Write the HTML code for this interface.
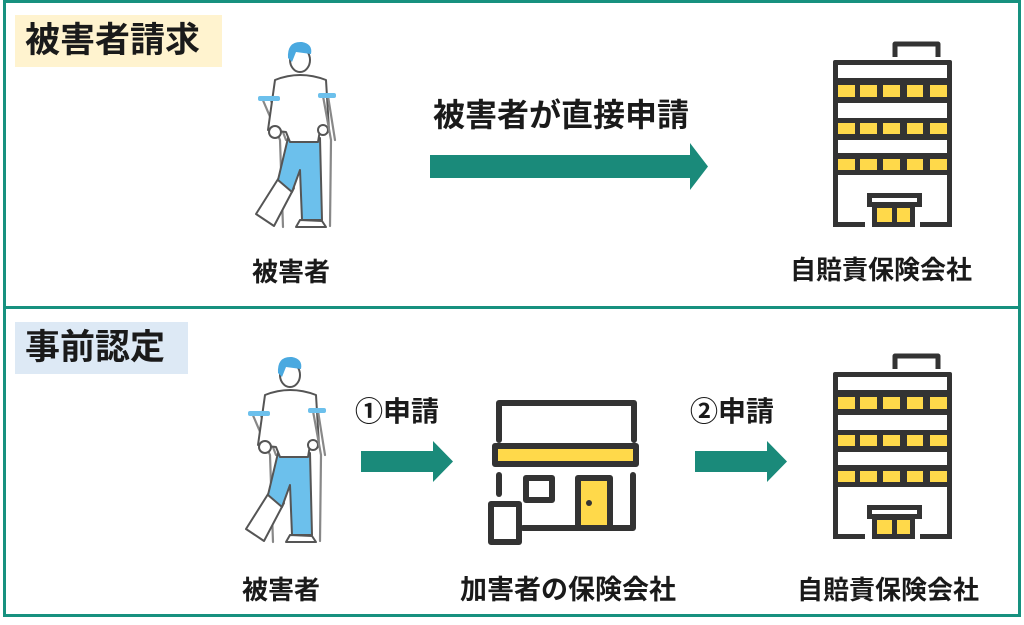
<!DOCTYPE html>
<html><head><meta charset="utf-8"><style>
html,body{margin:0;padding:0;background:#fff;}
body{width:1024px;height:625px;position:relative;overflow:hidden;font-family:"Liberation Sans","Noto Sans CJK JP",sans-serif;color:#1a1a1a;}
.box{position:absolute;border:3px solid #17917f;box-sizing:border-box;}
.t{position:absolute;white-space:nowrap;font-weight:bold;line-height:1;}
.tag{position:absolute;font-size:35px;font-weight:bold;line-height:52px;padding-left:10px;box-sizing:border-box;}
</style></head><body>
<div class="box" style="left:3px;top:0;width:1018px;height:309px;"></div>
<div class="box" style="left:3px;top:306px;width:1018px;height:311px;"></div>
<div class="tag" style="left:15px;top:15px;width:207px;height:52px;background:#fff3cf;">被害者請求</div>
<div class="tag" style="left:15px;top:322px;width:173px;height:52px;background:#dde9f5;">事前認定</div>

<div class="t" style="left:433px;top:99px;font-size:32px;">被害者が直接申請</div>
<div class="t" style="left:252px;top:259px;font-size:26px;">被害者</div>
<div class="t" style="left:790px;top:257px;font-size:26px;">自賠責保険会社</div>
<div class="t" style="left:242px;top:577px;font-size:26px;">被害者</div>
<div class="t" style="left:460px;top:577px;font-size:27px;">加害者の保険会社</div>
<div class="t" style="left:797px;top:577px;font-size:26px;">自賠責保険会社</div>
<div class="t" style="left:355px;top:398px;font-size:28px;">①申請</div>
<div class="t" style="left:690px;top:398px;font-size:28px;">②申請</div>

<svg width="1024" height="625" style="position:absolute;left:0;top:0">
<defs>
<g id="bld">
 <path d="M85,27 V14 H128 V27" fill="none" stroke="#333" stroke-width="5" stroke-linejoin="round"/>
 <rect x="23" y="30" width="119" height="115" fill="#333" rx="2"/>
 <rect x="28" y="35" width="109" height="13" fill="#fff"/>
 <rect x="28" y="73" width="109" height="15" fill="#fff"/>
 <rect x="28" y="110" width="109" height="13" fill="#fff"/>
 <g fill="#ffd94a">
  <rect x="28" y="55" width="17" height="12"/><rect x="50" y="55" width="17" height="12"/><rect x="73" y="55" width="17" height="12"/><rect x="97" y="55" width="16" height="12"/><rect x="120" y="55" width="17" height="12"/>
  <rect x="28" y="93" width="17" height="11"/><rect x="50" y="93" width="17" height="11"/><rect x="73" y="93" width="17" height="11"/><rect x="97" y="93" width="16" height="11"/><rect x="120" y="93" width="17" height="11"/>
  <rect x="28" y="129" width="17" height="11"/><rect x="50" y="129" width="17" height="11"/><rect x="73" y="129" width="17" height="11"/><rect x="97" y="129" width="16" height="11"/><rect x="120" y="129" width="17" height="11"/>
 </g>
 <rect x="23" y="140" width="5" height="57" fill="#333"/>
 <rect x="137" y="140" width="5" height="57" fill="#333"/>
 <rect x="23" y="192" width="32" height="5" fill="#333"/>
 <rect x="110" y="192" width="32" height="5" fill="#333"/>
 <rect x="59.5" y="165.5" width="50" height="9" fill="#fff" stroke="#333" stroke-width="5"/>
 <rect x="62" y="174" width="43" height="23" fill="#333"/>
 <rect x="67" y="178" width="15" height="14" fill="#ffd94a"/>
 <rect x="87" y="178" width="13" height="14" fill="#ffd94a"/>
</g>
<g id="man" stroke-linejoin="round" stroke-linecap="round">
 <path d="M32,68 L50,110 L53,197 M40,68 L56,110" stroke="#888" stroke-width="2.2" fill="none"/>
 <path d="M50,146 L64,158 L44,196 L26,184 Z" fill="#fff" stroke="#555" stroke-width="2"/>
 <path d="M58,108 L90,108 L92,190 L72,190 L70,140 L62,162 L48,150 Z" fill="#6cc0ec" stroke="#555" stroke-width="2"/>
 <path d="M70,190 L92,191 L96,197 L66,197 Z" fill="#fff" stroke="#555" stroke-width="2"/>
 <path d="M45,50 Q70,40 96,50 L99,100 L90,100 L88,112 L60,112 L56,102 L38,100 Z" fill="#fff" stroke="#555" stroke-width="2"/>
 <circle cx="45" cy="102" r="6" fill="#fff" stroke="#555" stroke-width="2"/>
 <circle cx="93" cy="100" r="5" fill="#fff" stroke="#555" stroke-width="2"/>
 <path d="M93,66 L101,110 L100,196 M98,66 L105,110" stroke="#888" stroke-width="2.2" fill="none"/>
 <rect x="28" y="66" width="22" height="5" rx="2" fill="#6cc0ec"/>
 <rect x="88" y="63" width="18" height="5" rx="2" fill="#6cc0ec"/>
 <ellipse cx="70" cy="30" rx="10" ry="12" fill="#fff" stroke="#555" stroke-width="2"/>
 <path d="M58,28 Q57,11 72,12 Q83,14 81,24 L66,22 L62,32 Z" fill="#4aa9e0"/>
</g>
</defs>
<use href="#bld" x="810" y="30"/>
<use href="#bld" x="810" y="342"/>
<use href="#man" x="230" y="30"/>
<use href="#man" x="220" y="345"/>

<path d="M430,155 H690 V143 L708,166.5 L690,190 V178 H430 Z" fill="#1a8a7a"/>
<path d="M361,451 H433 V441 L453,461.5 L433,482 V472 H361 Z" fill="#1a8a7a"/>
<path d="M695,451 H767 V441 L787,461.5 L767,482 V472 H695 Z" fill="#1a8a7a"/>

<g fill="none" stroke="#333" stroke-width="6" stroke-linecap="round" stroke-linejoin="round">
 <path d="M499,440 V403 H634 V440"/>
 <rect x="495" y="446" width="141" height="18" fill="#ffd94a"/>
 <path d="M499,475 V494"/>
 <path d="M633,475 V528 H523"/>
 <rect x="526" y="478" width="26" height="22" fill="#fff"/>
 <rect x="578" y="478" width="32" height="50" fill="#ffd94a"/>
 <rect x="491" y="504" width="28" height="38" fill="#fff"/>
</g>
<circle cx="589" cy="503" r="3" fill="#333"/>
</svg>
</body></html>
